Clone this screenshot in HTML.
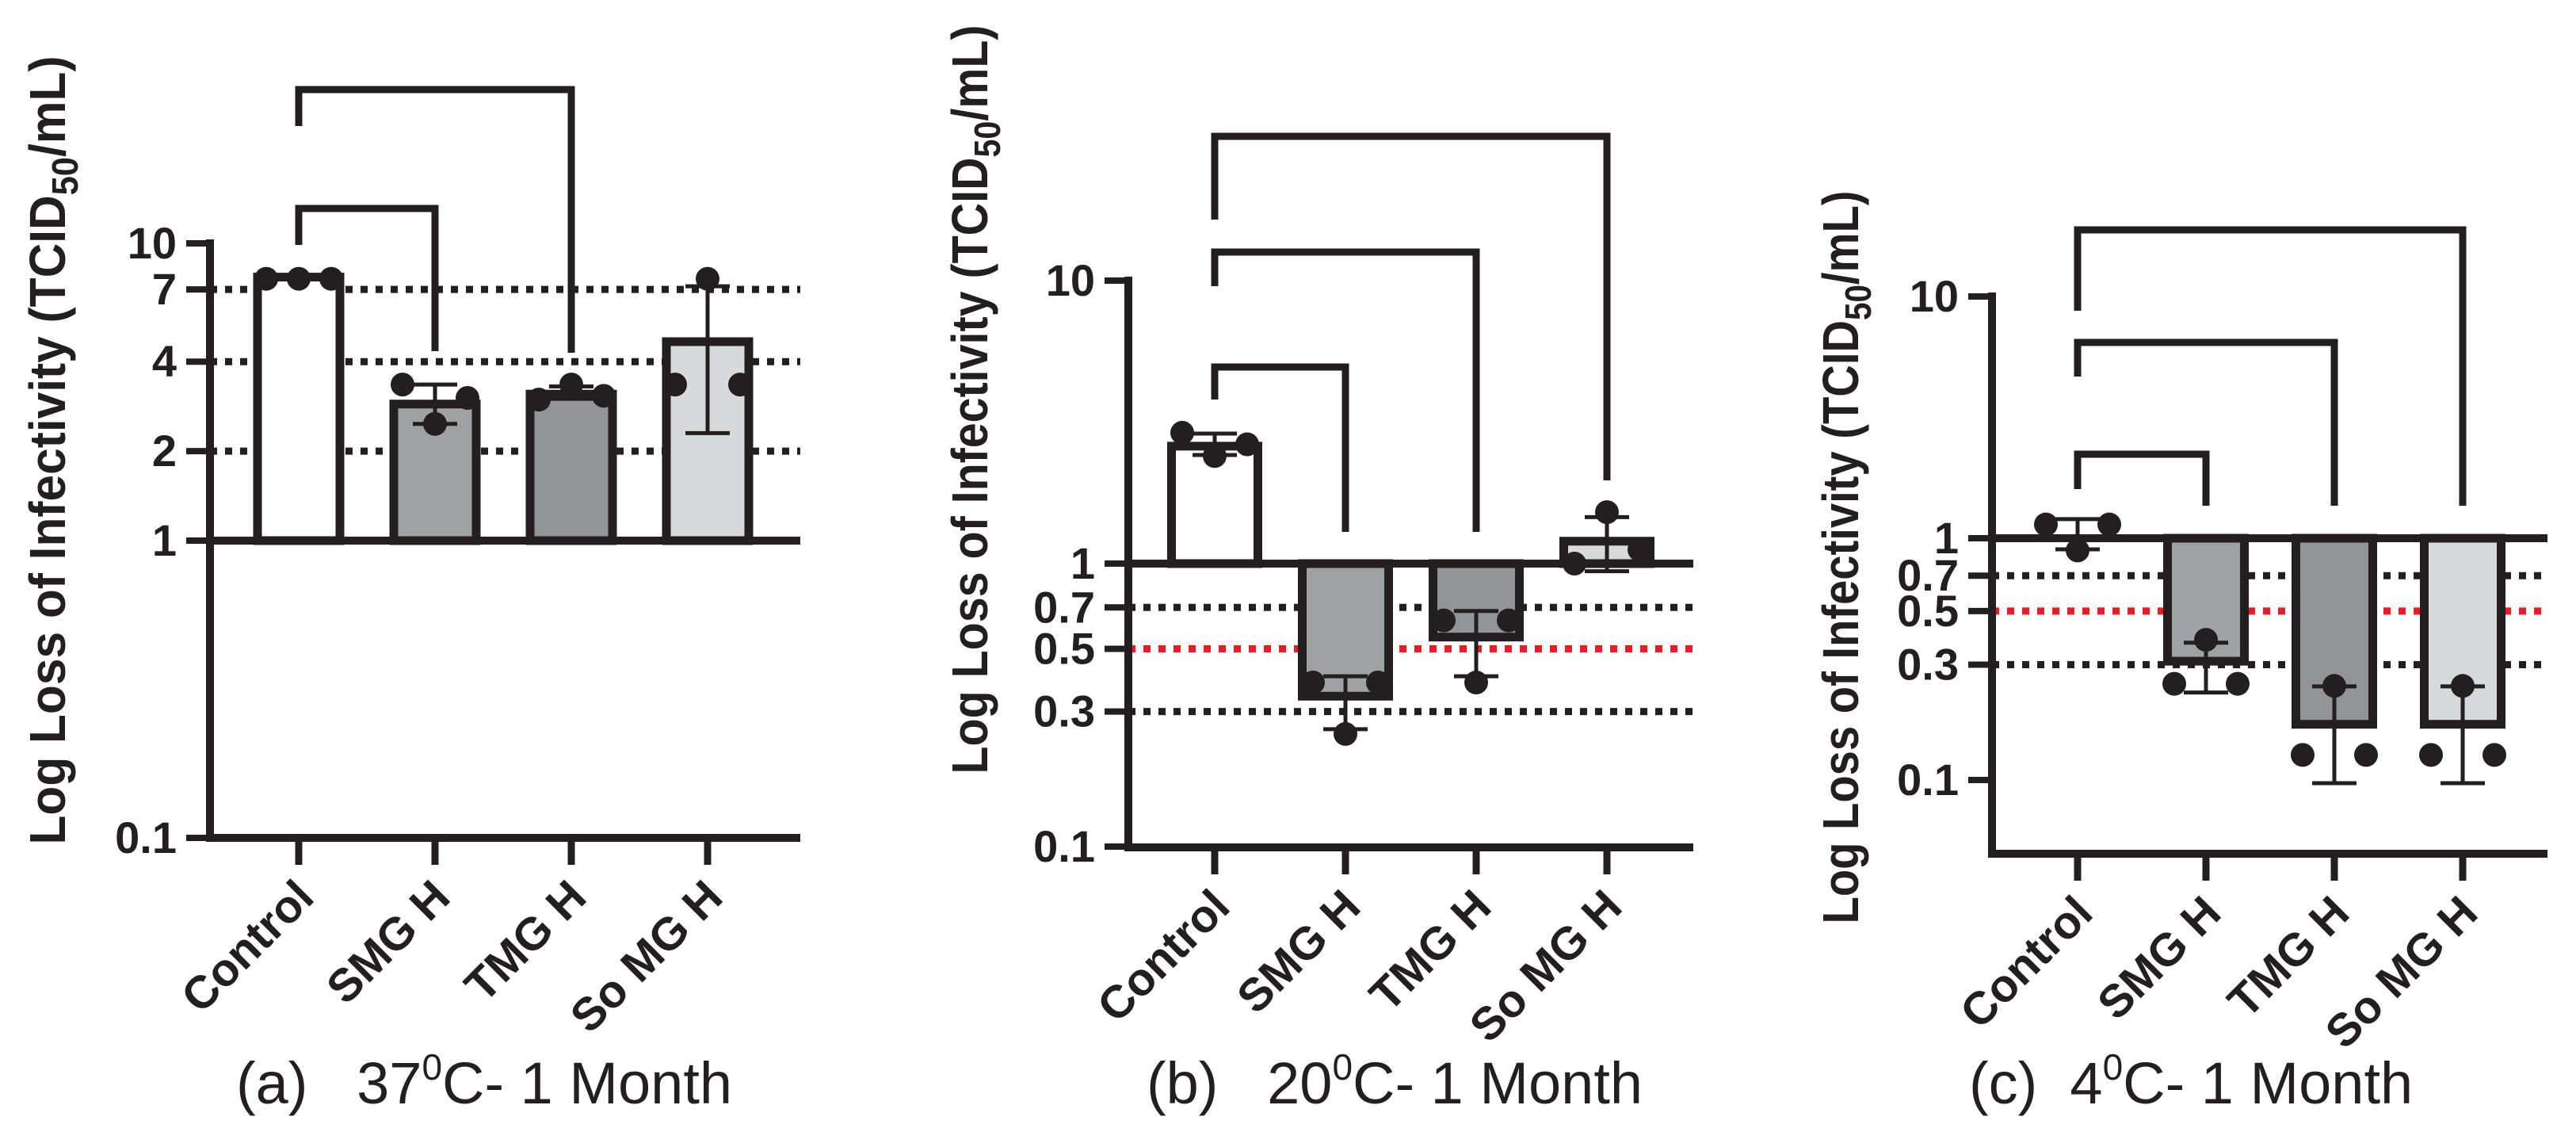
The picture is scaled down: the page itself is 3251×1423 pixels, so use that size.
<!DOCTYPE html>
<html><head><meta charset="utf-8"><style>
html,body{margin:0;padding:0;background:#fff}
svg{display:block}
text{font-family:"Liberation Sans",Arial,sans-serif;fill:#231f20}
</style></head><body>
<svg id="fig" width="3251" height="1423" viewBox="0 0 3251 1423" xmlns="http://www.w3.org/2000/svg"></svg>
<script>
// ---- Data ----
const categories = ["Control","SMG  H","TMG H","So MG H"];
const barFills = ["#ffffff","#a0a1a3","#939497","#d8d9da"];
// Panel (a) 37C
const aMeans = [7.7, 2.88, 3.11, 4.67];
const aDots = [[7.6,7.6,7.6],[3.35,2.47,3.02],[2.98,3.35,3.07],[3.35,7.6,3.35]];
const aErrLo = [7.6, 2.47, 3.0, 2.3];
const aErrHi = [7.7, 3.35, 3.3, 7.17];
const aRefLines = [7, 4, 2];
const aTicks = [10, 7, 4, 2, 1, 0.1];
const aTickLabels = ["10","7","4","2","1","0.1"];
// Panel (b) 20C
const bMeans = [2.6, 0.34, 0.55, 1.2];
const bDots = [[2.9,2.4,2.64],[0.38,0.25,0.38],[0.63,0.38,0.63],[1.0,1.52,1.12]];
const bErrLo = [2.42, 0.26, 0.40, 0.94];
const bErrHi = [2.88, 0.40, 0.68, 1.46];
const bRefLines = [0.7, 0.3];
const bRedLines = [0.5];
const bTicks = [10, 1, 0.7, 0.5, 0.3, 0.1];
const bTickLabels = ["10","1","0.7","0.5","0.3","0.1"];
// Panel (c) 4C
const cMeans = [1.0, 0.31, 0.17, 0.17];
const cDots = [[1.14,0.89,1.14],[0.25,0.38,0.25],[0.127,0.245,0.127],[0.127,0.245,0.127]];
const cErrLo = [0.9, 0.23, 0.097, 0.097];
const cErrHi = [1.2, 0.37, 0.244, 0.244];
const cRefLines = [0.7, 0.3];
const cRedLines = [0.5];
const cTicks = [10, 1, 0.7, 0.5, 0.3, 0.1];
const cTickLabels = ["10","1","0.7","0.5","0.3","0.1"];

const NS = "http://www.w3.org/2000/svg";
const svg = document.getElementById('fig');
const INK = "#231f20";
function mk(tag, attrs, parent){
  const e = document.createElementNS(NS, tag);
  for (const k in attrs) e.setAttribute(k, attrs[k]);
  (parent||svg).appendChild(e);
  return e;
}

function panel(p){
  const g = mk('g', {});
  
  
  const y = v => p.y1 - p.dec * Math.log10(v);
  const x = i => p.cx0 + i * p.step;
  p.ref.forEach(v => {
    const l = mk('line', {x1:p.ax, x2:p.xEnd, y1:y(v), y2:y(v), stroke:INK, 'stroke-width':9, 'stroke-dasharray':'9 10'}, g);
    
    
  });
  p.red.forEach(v => {
    const l = mk('line', {x1:p.ax, x2:p.xEnd, y1:y(v), y2:y(v), stroke:"#ed1c24", 'stroke-width':9, 'stroke-dasharray':'9 10'}, g);
    
    
  });
  p.means.forEach((m, i) => {
    const top = Math.min(y(m), y(1)), bot = Math.max(y(m), y(1));
    if (bot - top < 2) return;
    const r = mk('rect', {x:x(i)-p.bw/2, y:top, width:p.bw, height:bot-top, fill:barFills[i], stroke:INK, 'stroke-width':11}, g);
    
    
  });
  const bl = mk('line', {x1:p.ax, x2:p.xEnd, y1:y(1), y2:y(1), stroke:INK, 'stroke-width':10}, g);
  
  
  p.means.forEach((m, i) => {
    const cx = x(i);
    const e = mk('g', {}, g);
    
    
    mk('line', {x1:cx, x2:cx, y1:y(p.lo[i]), y2:y(p.hi[i]), stroke:INK, 'stroke-width':5}, e);
    mk('line', {x1:cx-28, x2:cx+28, y1:y(p.lo[i]), y2:y(p.lo[i]), stroke:INK, 'stroke-width':5}, e);
    mk('line', {x1:cx-28, x2:cx+28, y1:y(p.hi[i]), y2:y(p.hi[i]), stroke:INK, 'stroke-width':5}, e);
    p.dots[i].forEach((d, j) => {
      const c = mk('circle', {cx:cx + (j-1)*p.dx, cy:y(d), r:15, fill:INK}, g);
      
      
    });
  });
  const ya = mk('line', {x1:p.ax, x2:p.ax, y1:y(10)-5, y2:p.xAxisY+5, stroke:INK, 'stroke-width':10}, g);
  
  
  const xa = mk('line', {x1:p.ax-5, x2:p.xEnd, y1:p.xAxisY, y2:p.xAxisY, stroke:INK, 'stroke-width':10}, g);
  
  
  p.ticks.forEach((v, i) => {
    mk('line', {x1:p.ax-30, x2:p.ax, y1:y(v), y2:y(v), stroke:INK, 'stroke-width':8}, g);
    const t = mk('text', {x:p.ax-42, y:y(v)+19, 'text-anchor':'end', 'font-size':56, 'font-weight':'bold'}, g);
    t.textContent = p.tickLabels[i];
    
    
  });
  categories.forEach((c, i) => {
    mk('line', {x1:x(i), x2:x(i), y1:p.xAxisY, y2:p.xAxisY+34, stroke:INK, 'stroke-width':9}, g);
    const t = mk('text', {x:0, y:0, 'text-anchor':'end', 'font-size':58, 'font-weight':'bold', transform:`translate(${x(i)+22},${p.xAxisY+78}) rotate(-45)`}, g);
    t.textContent = c;
    
    
  });
  p.brackets.forEach(b => {
    const br = mk('path', {d:`M${x(0)},${b.l} V${b.top} H${x(b.to)} V${b.r}`, fill:'none', stroke:INK, 'stroke-width':9}, g);
    
    
  });
  const yt = mk('text', {x:0, y:0, 'text-anchor':'middle', 'font-size':64, 'font-weight':'bold', transform:`translate(${p.ytx},${p.yty}) rotate(-90)`}, g);
  yt.innerHTML = 'Log Loss of Infectivity (TCID<tspan font-size="46" dy="16">50</tspan><tspan dy="-16">/mL)</tspan>';
  yt.setAttribute('textLength', p.ytLen);
  yt.setAttribute('lengthAdjust', 'spacingAndGlyphs');
  
  
  const cap = mk('text', {x:p.capX, y:1392, 'font-size':74}, g);
  cap.innerHTML = p.cap1 + '<tspan font-size="46" dy="-30">0</tspan><tspan dy="30">C- 1 Month</tspan>';
  
  
}

panel({name:'panel-a-37c', y1:682, dec:375, ax:265, xEnd:1010, xAxisY:1057, cx0:377, step:172, bw:104, dx:41,
  means:aMeans, dots:aDots, lo:aErrLo, hi:aErrHi, ref:aRefLines, red:[], ticks:aTicks, tickLabels:aTickLabels,
  brackets:[{to:1, top:263, l:309, r:443},{to:2, top:113, l:159, r:445}],
  ytx:82, yty:568, ytLen:995, capX:298, cap1:'(a)\u00a0\u00a0 37'});
panel({name:'panel-b-20c', y1:711, dec:357, ax:1424, xEnd:2137, xAxisY:1069, cx0:1533, step:165, bw:109, dx:41,
  means:bMeans, dots:bDots, lo:bErrLo, hi:bErrHi, ref:bRefLines, red:bRedLines, ticks:bTicks, tickLabels:bTickLabels,
  brackets:[{to:1, top:463, l:504, r:671},{to:2, top:318, l:361, r:671},{to:3, top:172, l:277, r:606}],
  ytx:1246, yty:504, ytLen:945, capX:1447, cap1:'(b)\u00a0\u00a0 20'});
panel({name:'panel-c-4c', y1:679, dec:305, ax:2514, xEnd:3215, xAxisY:1077, cx0:2622, step:162, bw:97, dx:40,
  means:cMeans, dots:cDots, lo:cErrLo, hi:cErrHi, ref:cRefLines, red:cRedLines, ticks:cTicks, tickLabels:cTickLabels,
  brackets:[{to:1, top:573, l:617, r:638},{to:2, top:432, l:475, r:638},{to:3, top:290, l:392, r:638}],
  ytx:2345, yty:703, ytLen:925, capX:2485, cap1:'(c)\u00a0 4'});
</script>
</body></html>
